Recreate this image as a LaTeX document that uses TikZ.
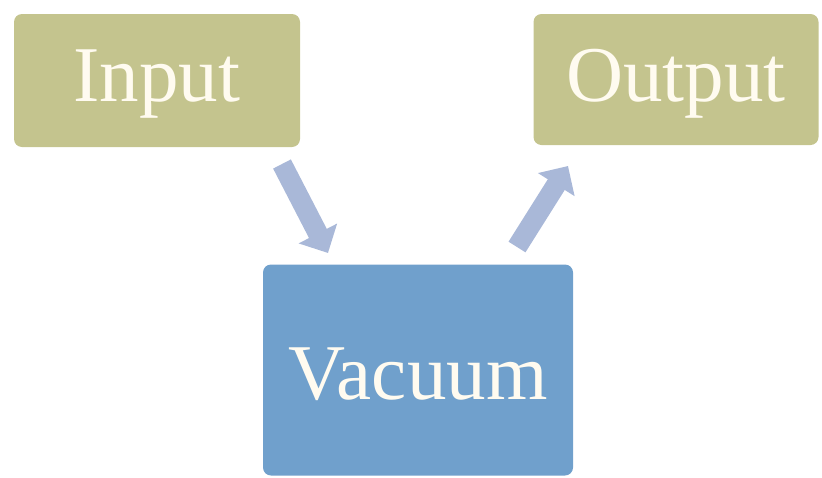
\documentclass[tikz,border=0pt]{standalone}
\usepackage{fontspec}
\setmainfont{Liberation Serif}
\usetikzlibrary{arrows.meta}
\definecolor{boxgreen}{HTML}{C4C48E}
\definecolor{boxblue}{HTML}{70A0CC}
\definecolor{flow}{HTML}{A9B8D8}
\definecolor{label}{HTML}{FFFBF0}
\tikzset{
  stage/.style={draw=none, rounded corners=8pt, inner sep=0pt,
    text=label, font=\fontsize{79}{82}\selectfont},
  flowarrow/.style={draw=flow, line width=20pt,
    -{Triangle[width=42pt,length=22pt]}},
}
% lower the label a little while keeping its box size
\newcommand{\stagetext}[1]{\raisebox{-4pt}[\height][\depth]{#1}}
\begin{document}
\begin{tikzpicture}[x=1pt,y=-1pt]
  \useasboundingbox (0,0) rectangle (822,477);
  % three stages
  \node[stage, fill=boxgreen, minimum width=286pt, minimum height=133pt]
    (in) at (157,80.5) {\stagetext{Input}};
  \node[stage, fill=boxgreen, minimum width=285pt, minimum height=131pt]
    (out) at (676,79.5) {\stagetext{Output}};
  \node[stage, fill=boxblue, minimum width=310pt, minimum height=211pt]
    (vac) at (418,370) {\stagetext{Vacuum}};
  % flow arrows between the stages
  \coordinate (a1) at (282,164);
  \coordinate (a2) at (328,253);
  \coordinate (b1) at (517,247);
  \coordinate (b2) at (568,166);
  \draw[flowarrow] (a1) -- (a2);
  \draw[flowarrow] (b1) -- (b2);
\end{tikzpicture}
\end{document}
